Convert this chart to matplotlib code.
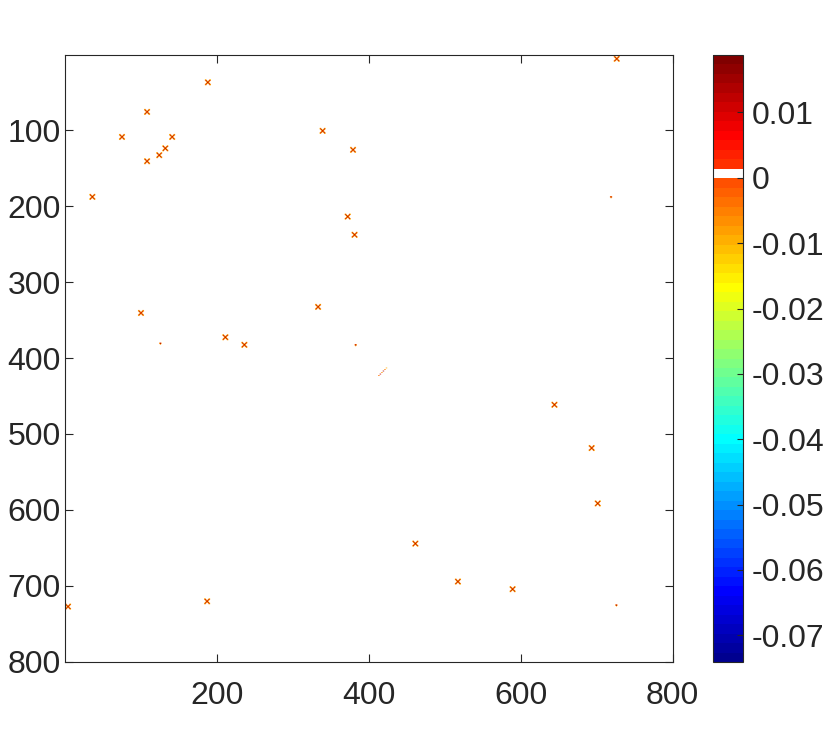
import numpy as np
import matplotlib
matplotlib.use("Agg")
import matplotlib.pyplot as plt
from matplotlib.colors import ListedColormap

plt.rcParams['font.family'] = ['Liberation Sans', 'DejaVu Sans']

# 矩阵大小
N = 800
# 颜色范围
CLIM = (-0.0741, 0.0188)

# 斑点中心 (列, 行)
blob_x = [189, 109, 76, 142, 133, 125, 109, 37, 340, 380, 373, 382,
          101, 212, 237, 334, 645, 694, 702, 518, 590, 462, 188, 5, 727]
blob_y = [37, 76, 109, 109, 124, 133, 141, 188, 101, 126, 214, 238,
          341, 373, 383, 333, 462, 519, 592, 695, 705, 645, 721, 728, 6]

# 小斑点
dot_x = [126, 383, 719, 726]
dot_y = [381, 383, 188, 726]

# 对角短线
line_x = [413, 415, 417, 419, 421, 423]
line_y = [423, 421, 419, 417, 415, 413]

# 斑点模板 (单位 1e-3)
STAMP = [[-12, -4, 0, 0, 0, 0, -4, -12],
         [-4, 14, -6, 0, 0, -6, 14, -4],
         [0, -6, 16, -9, -9, 12, -6, 0],
         [0, 0, -9, 6, 15, -9, 0, 0],
         [0, 0, -9, 15, 6, -9, 0, 0],
         [0, -6, 12, -9, -9, 16, -6, 0],
         [-4, 14, -6, 0, 0, -6, 14, -4],
         [-12, -4, 0, 0, 0, 0, -4, -12]]
DOT = [[-4, 12, -6],
       [-6, 15, -3],
       [0, -9, 0]]
LINE_VAL = [-4, 12, -6, 14, -5, -9]


def matlab_jet(m):
    # MATLAB jet(m)
    n = int(np.ceil(m / 4))
    u = np.concatenate([np.arange(1, n + 1) / n, np.ones(n - 1), np.arange(n, 0, -1) / n])
    g = int(np.ceil(n / 2)) - (1 if m % 4 == 1 else 0) + np.arange(1, len(u) + 1)
    r = g + n
    b = g - n
    J = np.zeros((m, 3))
    ok = r <= m
    J[r[ok] - 1, 0] = u[:ok.sum()]
    ok = g <= m
    J[g[ok] - 1, 1] = u[:ok.sum()]
    ok = b >= 1
    J[b[ok] - 1, 2] = u[len(u) - ok.sum():]
    return J


def stamp_at(data, pat, cx, cy):
    ph, pw = pat.shape
    r0 = cy - 1 - ph // 2
    c0 = cx - 1 - pw // 2
    for i in range(ph):
        for j in range(pw):
            r, c = r0 + i, c0 + j
            if 0 <= r < N and 0 <= c < N and pat[i, j] != 0:
                data[r, c] = pat[i, j]


def main():
    data = np.zeros((N, N))
    stamp = np.array(STAMP) * 1e-3
    for cx, cy in zip(blob_x, blob_y):
        stamp_at(data, stamp, cx, cy)
    dot = np.array(DOT) * 1e-3
    for cx, cy in zip(dot_x, dot_y):
        stamp_at(data, dot, cx, cy)
    for cx, cy, v in zip(line_x, line_y, LINE_VAL):
        data[cy - 1, cx - 1] = v * 1e-3
        data[cy - 1, cx] = v * 1e-3

    # jet(64), 0 所在色阶设为白色
    colors = np.ones((64, 4))
    colors[:, :3] = matlab_jet(64)
    zero_idx = int((0 - CLIM[0]) / (CLIM[1] - CLIM[0]) * 64)
    colors[zero_idx] = [1, 1, 1, 1]
    cmap = ListedColormap(colors)

    fig = plt.figure(figsize=(8.3, 7.46), dpi=100)
    ax = fig.add_axes([65 / 830, 1 - 662 / 746, 608 / 830, 607 / 746])
    im = ax.imshow(data, cmap=cmap, vmin=CLIM[0], vmax=CLIM[1],
                   extent=(0.5, N + 0.5, N + 0.5, 0.5), aspect='auto',
                   interpolation='antialiased', interpolation_stage='rgba')
    ax.set_xticks([200, 400, 600, 800])
    ax.set_yticks(range(100, 801, 100))
    ax.tick_params(direction='in', length=6, width=0.8, labelsize=23,
                   colors='#262626', top=True, right=True)
    ax.tick_params(axis='x', pad=14)
    ax.tick_params(axis='y', pad=3)
    for s in ax.spines.values():
        s.set_color('#262626')
        s.set_linewidth(0.8)

    cax = fig.add_axes([713 / 830, 1 - 662 / 746, 30 / 830, 607 / 746])
    cb = fig.colorbar(im, cax=cax)
    cb.set_ticks([0.01, 0, -0.01, -0.02, -0.03, -0.04, -0.05, -0.06, -0.07])
    cb.set_ticklabels(['0.01', '0', '-0.01', '-0.02', '-0.03', '-0.04',
                       '-0.05', '-0.06', '-0.07'])
    cax.tick_params(direction='in', length=4, width=0.8, labelsize=23,
                    colors='#262626', pad=6)
    cb.outline.set_edgecolor('#262626')
    cb.outline.set_linewidth(0.8)

    fig.savefig('out.png', dpi=100)


if __name__ == '__main__':
    main()
